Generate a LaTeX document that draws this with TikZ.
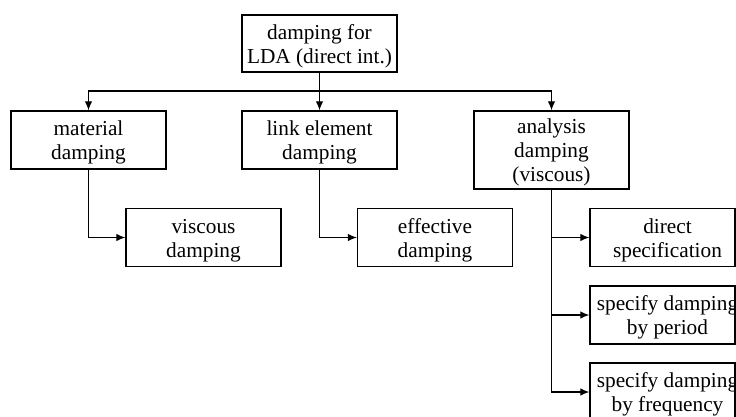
\documentclass[tikz,border=0pt]{standalone}
\usepackage{fontspec}
\setmainfont{Liberation Serif}
\usetikzlibrary{arrows.meta}
\newcommand\boxtxt[1]{\raisebox{-3pt}[\height][\depth]{\begin{tabular}{@{}c@{}}#1\end{tabular}}}
\newcommand\ovltxt[1]{\makebox[0pt]{\kern10pt\boxtxt{#1}}}
\begin{document}
\begin{tikzpicture}[x=1pt,y=-1pt,
  every node/.style={font=\fontsize{21.3}{24}\selectfont},
  box/.style={draw=black,line width=1.4pt,inner sep=0pt,minimum width=155pt,minimum height=58pt,fill=white},
  rbox/.style={box,minimum width=145pt},
  conn/.style={line width=1.1pt,-{Latex[length=9pt,width=7.5pt]}}]
\useasboundingbox (0,0) rectangle (736,417);
\clip (0,0) rectangle (736,417);
\node[box,minimum height=57pt] (top) at (319.5,43.5) {\boxtxt{damping for\\LDA (direct int.)}};
\node[box] (mat) at (88.5,140) {\boxtxt{material\\damping}};
\node[box] (link) at (319.5,140) {\boxtxt{link element\\damping}};
\node[box,minimum height=78pt] (ana) at (551.5,150) {\boxtxt{analysis\\damping\\(viscous)}};
\node[box] (visc) at (203.5,237.5) {\boxtxt{viscous\\damping}};
\node[box] (eff) at (435,237.5) {\boxtxt{effective\\damping}};
\node[rbox] (dir) at (662.5,237.5) {\ovltxt{direct\\specification}};
\node[rbox] (per) at (662.5,315) {\ovltxt{specify damping\\by period}};
\node[rbox] (freq) at (662.5,392) {\ovltxt{specify damping\\by frequency}};
\coordinate (bus) at (319.5,91);
\draw[conn] (top.south) -- (link.north);
\draw[conn] (bus) -| (mat.north);
\draw[conn] (bus) -| (ana.north);
\draw[conn] (mat.south) |- (visc.west);
\draw[conn] (link.south) |- (eff.west);
\draw[conn] (ana.south) |- (dir.west);
\draw[conn] (ana.south) |- (per.west);
\draw[conn] (ana.south) |- (freq.west);
\end{tikzpicture}
\end{document}
